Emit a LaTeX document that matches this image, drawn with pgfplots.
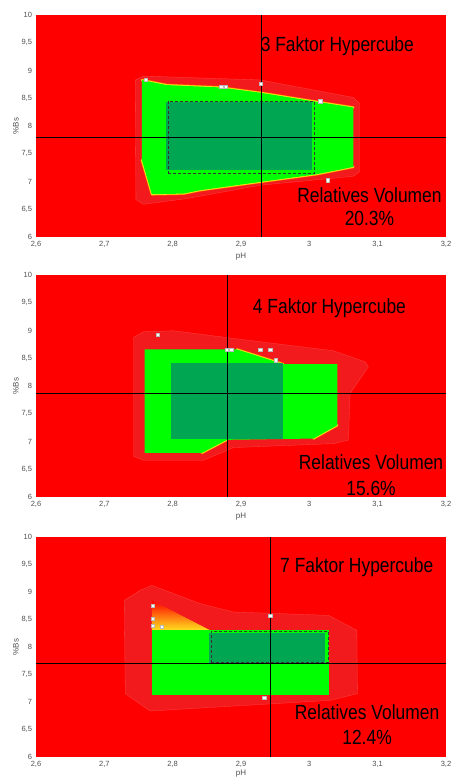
\documentclass[border=0pt]{standalone}
\usepackage{fontspec}
\setmainfont{Liberation Sans}
\newfontfamily\narrowfont[FakeStretch=0.85]{Liberation Sans}
\usepackage{pgfplots}
\pgfplotsset{compat=1.18}
\definecolor{bgred}{RGB}{255,0,0}
\definecolor{halo}{RGB}{243,26,30}
\definecolor{haloline}{RGB}{250,70,70}
\definecolor{brgreen}{RGB}{0,255,0}
\definecolor{dkgreen}{RGB}{0,166,81}
\definecolor{edgeyel}{RGB}{255,225,30}
\definecolor{edgeorg}{RGB}{255,120,0}
\definecolor{tickgray}{RGB}{80,80,80}
\tikzset{bigtxt/.style={font=\narrowfont\fontsize{20.5}{23}\selectfont, text=black}}
\pgfplotsset{hcube/.style={
  width=410pt, scale only axis,
  xmin=2.6, xmax=3.2, ymin=6, ymax=10,
  xtick={2.6,2.7,2.8,2.9,3,3.1,3.2},
  ytick={6,6.5,7,7.5,8,8.5,9,9.5,10},
  /pgf/number format/.cd, use comma, fixed, assume math mode=true, /pgfplots/.cd,
  major tick length=0pt,
  axis line style={draw=none},
  axis background/.style={fill=bgred},
  tick label style={font=\fontsize{7.5}{8}\selectfont, text=tickgray},
  xticklabel style={yshift=-1pt},
  yticklabel style={xshift=-0.5pt},
  xlabel={pH}, ylabel={\%Bs},
  label style={font=\fontsize{8}{9}\selectfont, text=tickgray},
  xlabel style={at={(axis description cs:0.5,-0.09)}, anchor=center},
  ylabel style={at={(axis description cs:-0.049,0.5)}, anchor=center},
  anchor=south west,
},
halo/.style={fill=halo, draw=haloline, line width=0.3pt},
edgeo/.style={draw=edgeorg, line width=2.6pt, line join=round, line cap=round},
edgey/.style={draw=edgeyel, line width=1.6pt, line join=round, line cap=round},
cross/.style={black, line width=0.6pt},
wmark/.style={only marks, mark=square*, mark size=1.6pt, mark options={fill=white, draw=gray!55, line width=0.4pt}},
}
\begin{document}
\begin{tikzpicture}
\path[use as bounding box] (0,0) rectangle (452pt,778pt);
% ---------------- Panel 1 ----------------
\begin{axis}[hcube, height=222pt, at={(36pt,541pt)}]
\addplot[halo] coordinates {(2.7452,8.827)(2.7574,8.899)(2.928,8.83)(3.0645,8.514)(3.0733,8.406)(3.0733,7.173)(3.0645,7.095)(2.928,6.932)(2.8208,6.692)(2.7574,6.589)(2.7462,6.674)} -- cycle;
\addplot[edgeo] coordinates {(2.755,8.827)(2.7915,8.737)(2.8695,8.695)(2.928,8.600)(3.011,8.436)(3.0645,8.334)};
\addplot[edgeo] coordinates {(3.0645,7.263)(3.011,7.131)(2.928,6.992)(2.840,6.842)(2.816,6.782)(2.7696,6.770)(2.755,7.383)};
\addplot[edgey] coordinates {(2.755,8.827)(2.7915,8.737)(2.8695,8.695)(2.928,8.600)(3.011,8.436)(3.0645,8.334)};
\addplot[edgey] coordinates {(3.0645,7.263)(3.011,7.131)(2.928,6.992)(2.840,6.842)(2.816,6.782)(2.7696,6.770)(2.755,7.383)};
\addplot[fill=brgreen, draw=none] coordinates {(2.755,8.827)(2.7915,8.737)(2.8695,8.695)(2.928,8.600)(3.011,8.436)(3.0645,8.334)(3.0645,7.263)(3.011,7.131)(2.928,6.992)(2.840,6.842)(2.816,6.782)(2.7696,6.770)(2.755,7.383)} -- cycle;
\addplot[fill=dkgreen, draw=none] coordinates {(2.7906,7.203)(3.0045,7.203)(3.0045,8.424)(2.7906,8.424)} -- cycle;
\addplot[draw=black!80, densely dashed, line width=0.5pt] coordinates {(2.793,7.143)(3.007,7.143)(3.007,8.448)(2.793,8.448)} -- cycle;
\addplot[cross] coordinates {(2.929,6)(2.929,10)};
\addplot[cross] coordinates {(2.6,7.798)(3.2,7.798)};
\addplot[wmark] coordinates {(2.76,8.84)(2.871,8.707)(2.878,8.707)(2.929,8.755)(3.016,8.448)(3.0265,7.023)};
\node[bigtxt] at (axis cs:3.041,9.43) {3 Faktor Hypercube};
\node[bigtxt, align=center] at (axis cs:3.088,6.54) {Relatives Volumen\\20.3\%};
\end{axis}
% ---------------- Panel 2 ----------------
\begin{axis}[hcube, height=222pt, at={(36pt,281pt)}]
\addplot[halo] coordinates {(2.7428,8.875)(2.7574,8.977)(2.8013,8.995)(2.8890,8.857)(3.0352,8.635)(3.0815,8.436)(3.0864,8.346)(3.0596,7.865)(3.0572,7.023)(3.0352,6.962)(2.8890,6.890)(2.8452,6.662)(2.7574,6.662)(2.7428,6.734)} -- cycle;
\addplot[edgeo] coordinates {(2.894,8.659)(2.962,8.394)};
\addplot[edgeo] coordinates {(3.041,7.293)(3.006,7.053)};
\addplot[edgeo] coordinates {(2.8793,7.03)(2.8427,6.794)};
\addplot[edgey] coordinates {(2.894,8.659)(2.962,8.394)};
\addplot[edgey] coordinates {(3.041,7.293)(3.006,7.053)};
\addplot[edgey] coordinates {(2.8793,7.03)(2.8427,6.794)};
\addplot[fill=brgreen, draw=none] coordinates {(2.759,8.659)(2.894,8.659)(2.962,8.394)(3.041,8.394)(3.041,7.293)(3.006,7.053)(2.8793,7.03)(2.8427,6.794)(2.759,6.794)} -- cycle;
\addplot[fill=dkgreen, draw=none] coordinates {(2.798,7.041)(2.961,7.041)(2.961,8.406)(2.798,8.406)} -- cycle;
\addplot[cross] coordinates {(2.8798,6)(2.8798,10)};
\addplot[cross] coordinates {(2.6,7.865)(3.2,7.865)};
\addplot[wmark] coordinates {(2.7784,8.929)(2.879,8.659)(2.8856,8.659)(2.928,8.659)(2.9426,8.659)(2.9504,8.466)};
\node[bigtxt] at (axis cs:3.0294,9.398) {4 Faktor Hypercube};
\node[bigtxt, align=center, font=\narrowfont\fontsize{20.5}{26.5}\selectfont] at (axis cs:3.0903,6.39) {Relatives Volumen\\15.6\%};
\end{axis}
% ---------------- Panel 3 ----------------
\begin{axis}[hcube, height=220pt, at={(36pt,21pt)}, xlabel style={at={(axis description cs:0.5,-0.075)}}]
\addplot[halo] coordinates {(2.7292,8.848)(2.7525,9.030)(2.7696,9.121)(2.8403,8.788)(2.8890,8.636)(3.0280,8.576)(3.0695,8.303)(3.0704,7.152)(3.0304,7.030)(2.7672,6.836)(2.7306,7.152)} -- cycle;
\addplot[draw=none, top color=bgred, middle color=edgeorg, bottom color=edgeyel] coordinates {(2.7696,8.848)(2.7696,8.303)(2.855,8.303)} -- cycle;
\addplot[fill=brgreen, draw=none] coordinates {(2.7696,7.133)(3.029,7.133)(3.029,8.303)(2.7696,8.303)} -- cycle;
\addplot[fill=dkgreen, draw=none] coordinates {(2.8525,7.715)(3.0231,7.715)(3.0231,8.2545)(2.8525,8.2545)} -- cycle;
\addplot[draw=black!80, densely dashed, line width=0.5pt] coordinates {(2.8559,7.715)(3.0279,7.715)(3.0279,8.285)(2.8559,8.285)} -- cycle;
\addplot[cross] coordinates {(2.9427,6)(2.9427,10)};
\addplot[cross] coordinates {(2.6,7.709)(3.2,7.709)};
\addplot[wmark] coordinates {(2.7711,8.758)(2.7711,8.515)(2.7711,8.394)(2.7838,8.376)(2.9427,8.570)(2.9339,7.079)};
\node[bigtxt] at (axis cs:3.0694,9.4545) {7 Faktor Hypercube};
\node[bigtxt, align=center, font=\narrowfont\fontsize{20.5}{25}\selectfont] at (axis cs:3.0845,6.59) {Relatives Volumen\\12.4\%};
\end{axis}
\end{tikzpicture}
\end{document}
